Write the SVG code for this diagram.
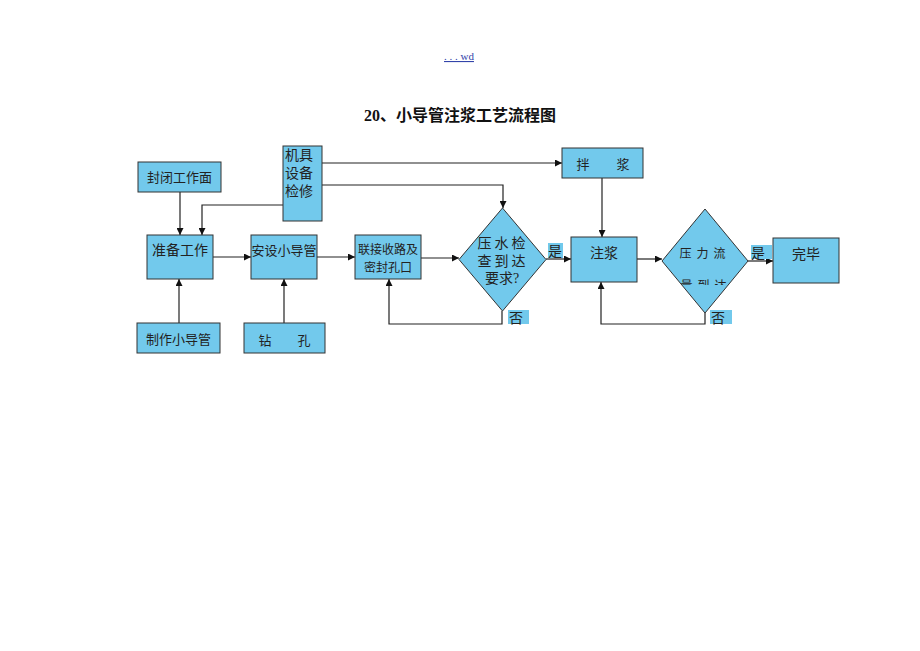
<svg xmlns="http://www.w3.org/2000/svg" width="920" height="651" viewBox="0 0 920 651">
<style>
.box{fill:#72C9EC;stroke:#333;stroke-width:1}
.t{font-family:"Liberation Serif","Noto Sans CJK SC",serif;font-size:13px;fill:#222}
.c{text-anchor:middle}
.ln{fill:none;stroke:#222;stroke-width:1.2}
.lbl{fill:#72C9EC}
</style>
<defs>
<marker id="ah" viewBox="0 0 10 10" refX="10" refY="5" markerWidth="7" markerHeight="7" orient="auto" markerUnits="userSpaceOnUse">
<path d="M0,0 L10,5 L0,10 z" fill="#111"/>
</marker>
<clipPath id="clipD2"><rect x="660" y="270" width="90" height="15"/></clipPath>
</defs>
<rect width="920" height="651" fill="#fff"/>
<text x="459" y="60" class="c" style="font-family:'Liberation Serif',serif;font-size:11px;fill:#3344aa;text-decoration:underline">. . . wd</text>
<text x="460" y="121" class="c" style="font-family:'Liberation Serif','Noto Sans CJK SC',serif;font-size:16px;font-weight:bold;fill:#111">20、小导管注浆工艺流程图</text>

<g id="connectors">
<line class="ln" x1="180" y1="192" x2="180" y2="235" marker-end="url(#ah)"/>
<polyline class="ln" points="283,205 202,205 202,235" marker-end="url(#ah)"/>
<line class="ln" x1="179" y1="323" x2="179" y2="279" marker-end="url(#ah)"/>
<line class="ln" x1="213" y1="257" x2="251" y2="257" marker-end="url(#ah)"/>
<line class="ln" x1="284" y1="323" x2="284" y2="279" marker-end="url(#ah)"/>
<line class="ln" x1="317" y1="257" x2="355" y2="257" marker-end="url(#ah)"/>
<line class="ln" x1="421" y1="258" x2="459" y2="258" marker-end="url(#ah)"/>
<line class="ln" x1="322" y1="163" x2="562" y2="163" marker-end="url(#ah)"/>
<polyline class="ln" points="322,185 503,185 503,208" marker-end="url(#ah)"/>
<polyline class="ln" points="502,311 502,324 389,324 389,279" marker-end="url(#ah)"/>
<line class="ln" x1="546" y1="259" x2="571" y2="259" marker-end="url(#ah)"/>
<line class="ln" x1="602" y1="178" x2="602" y2="237" marker-end="url(#ah)"/>
<line class="ln" x1="637" y1="259" x2="662" y2="259" marker-end="url(#ah)"/>
<line class="ln" x1="748" y1="261" x2="773" y2="261" marker-end="url(#ah)"/>
<polyline class="ln" points="705,313 705,324 601,324 601,282" marker-end="url(#ah)"/>
</g>

<g id="n-fengbi"><rect class="box" x="138" y="162" width="83" height="30"/><text class="t c" x="179.5" y="182">封闭工作面</text></g>
<g id="n-jiju"><rect class="box" x="283" y="146" width="39" height="75"/>
<text class="t" x="285" y="160" style="font-size:14px">机具</text>
<text class="t" x="285" y="178" style="font-size:14px">设备</text>
<text class="t" x="285" y="196" style="font-size:14px">检修</text></g>
<g id="n-zhunbei"><rect class="box" x="147" y="235" width="66" height="44"/><text class="t c" x="180" y="255" style="font-size:14px">准备工作</text></g>
<g id="n-anshe"><rect class="box" x="251" y="235" width="66" height="44"/><text class="t c" x="284" y="255">安设小导管</text></g>
<g id="n-zhizuo"><rect class="box" x="137" y="323" width="83" height="30"/><text class="t c" x="178.5" y="344">制作小导管</text></g>
<g id="n-zuankong"><rect class="box" x="244" y="323" width="81" height="30"/><text class="t c" x="265" y="345">钻</text><text class="t c" x="304" y="345">孔</text></g>
<g id="n-lianjie"><rect class="box" x="355" y="235" width="66" height="44"/>
<text class="t c" x="388" y="254" style="font-size:12px">联接收路及</text>
<text class="t c" x="388" y="272" style="font-size:12px">密封孔口</text></g>
<g id="n-d1"><polygon class="box" points="502.5,208 546,259.5 502.5,311 459,259.5"/>
<text class="t c" x="503" y="248" style="font-size:14px;letter-spacing:3px">压水检</text>
<text class="t c" x="503" y="266" style="font-size:14px;letter-spacing:3px">查到达</text>
<text class="t c" x="502" y="283" style="font-size:14px">要求?</text></g>
<g id="l-yes1"><rect class="lbl" x="548" y="243" width="15" height="15"/><text class="t" x="548" y="256" style="font-size:14px">是</text></g>
<g id="l-no1"><rect class="lbl" x="508" y="310" width="21" height="14"/><text class="t" x="509" y="323" style="font-size:14px">否</text></g>
<g id="n-banjiang"><rect class="box" x="562" y="148" width="81" height="30"/><text class="t c" x="583" y="169">拌</text><text class="t c" x="623" y="169">浆</text></g>
<g id="n-zhujiang"><rect class="box" x="571" y="237" width="66" height="45"/><text class="t c" x="604" y="258" style="font-size:14px">注浆</text></g>
<g id="n-d2"><polygon class="box" points="705,209 748,261 705,313 662,261"/>
<text class="t c" x="705" y="258" style="font-size:12px;letter-spacing:5px">压力流</text>
<text class="t c" x="706" y="290" style="font-size:12px;letter-spacing:5px" clip-path="url(#clipD2)">量到达</text></g>
<g id="l-yes2"><rect class="lbl" x="751" y="245" width="21" height="14"/><text class="t" x="751" y="258" style="font-size:14px">是</text></g>
<g id="l-no2"><rect class="lbl" x="710" y="310" width="22" height="14"/><text class="t" x="711" y="323" style="font-size:14px">否</text></g>
<g id="n-wanbi"><rect class="box" x="773" y="238" width="66" height="45"/><text class="t c" x="806" y="259" style="font-size:14px">完毕</text></g>
</svg>
